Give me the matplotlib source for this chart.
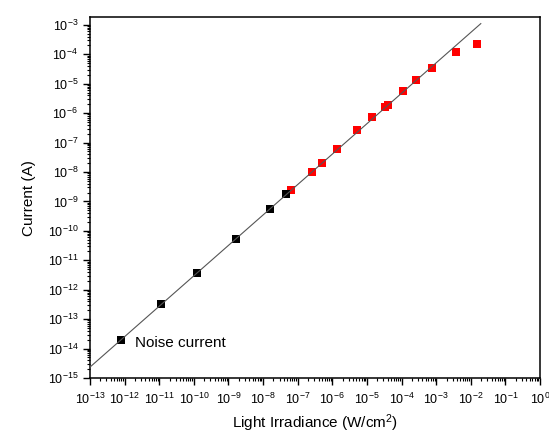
import numpy as np
import matplotlib
matplotlib.use("Agg")
import matplotlib.pyplot as plt
from matplotlib.ticker import LogLocator, LogFormatterMathtext, NullFormatter

plt.rcParams['font.family'] = ['Liberation Sans', 'DejaVu Sans']
plt.rcParams['mathtext.fontset'] = 'custom'
plt.rcParams['mathtext.rm'] = 'Liberation Sans'
plt.rcParams['mathtext.it'] = 'Liberation Sans:italic'
plt.rcParams['mathtext.bf'] = 'Liberation Sans:bold'

# noise-limited points (black)
noise_x = [8e-13, 1.1e-11, 1.2e-10, 1.65e-9, 1.55e-8, 4.6e-8]
noise_y = [1.9e-14, 3.3e-13, 3.6e-12, 5.2e-11, 5.5e-10, 1.74e-9]

# measured points (red)
meas_x = [6.6e-8, 2.6e-7, 5.1e-7, 1.4e-6, 5.3e-6, 1.4e-5, 3.3e-5, 4.2e-5,
          1.08e-4, 2.6e-4, 7.4e-4, 3.7e-3, 1.5e-2]
meas_y = [2.4e-9, 9.8e-9, 2.1e-8, 6.2e-8, 2.7e-7, 7.2e-7, 1.6e-6, 1.9e-6,
          5.5e-6, 1.3e-5, 3.4e-5, 1.24e-4, 2.25e-4]

# linear fit line end points
fit_x = [1e-13, 1.95e-2]
fit_y = [2.35e-15, 1.1e-3]

fig = plt.figure(figsize=(5.49, 4.33), dpi=100)
ax = fig.add_axes([0.1639, 0.127, 0.8197, 0.833])

ax.plot(meas_x, meas_y, 's', color='#ff0000', markersize=5.8, markeredgewidth=0, zorder=2)
ax.plot(noise_x, noise_y, 's', color='black', markersize=5.8, markeredgewidth=0, zorder=2)
ax.plot(fit_x, fit_y, '-', color='#555555', linewidth=0.8, zorder=3)

ax.set_xscale('log')
ax.set_yscale('log')
ax.set_xlim(1e-13, 1e0)
ax.set_ylim(1e-15, 1.8e-3)

ax.xaxis.set_major_locator(LogLocator(base=10, numticks=20))
ax.yaxis.set_major_locator(LogLocator(base=10, numticks=20))
ax.xaxis.set_minor_locator(LogLocator(base=10, subs=np.arange(2, 10), numticks=20))
ax.yaxis.set_minor_locator(LogLocator(base=10, subs=np.arange(2, 10), numticks=20))
ax.xaxis.set_major_formatter(LogFormatterMathtext())
ax.yaxis.set_major_formatter(LogFormatterMathtext())
ax.xaxis.set_minor_formatter(NullFormatter())
ax.yaxis.set_minor_formatter(NullFormatter())

ax.tick_params(which='both', direction='out', top=False, right=False, labelsize=9)
ax.tick_params(which='major', length=5, width=1)
ax.tick_params(which='minor', length=2.5, width=0.8)
ax.tick_params(axis='x', which='major', pad=5)
for s in ax.spines.values():
    s.set_linewidth(1.1)

ax.set_xlabel('Light Irradiance (W/cm$^2$)', fontsize=11, labelpad=4)
ax.set_ylabel('Current (A)', fontsize=11, labelpad=8)

ax.text(2e-12, 1.6e-14, 'Noise current', fontsize=11, ha='left', va='center')

fig.savefig('out.png', dpi=100)
